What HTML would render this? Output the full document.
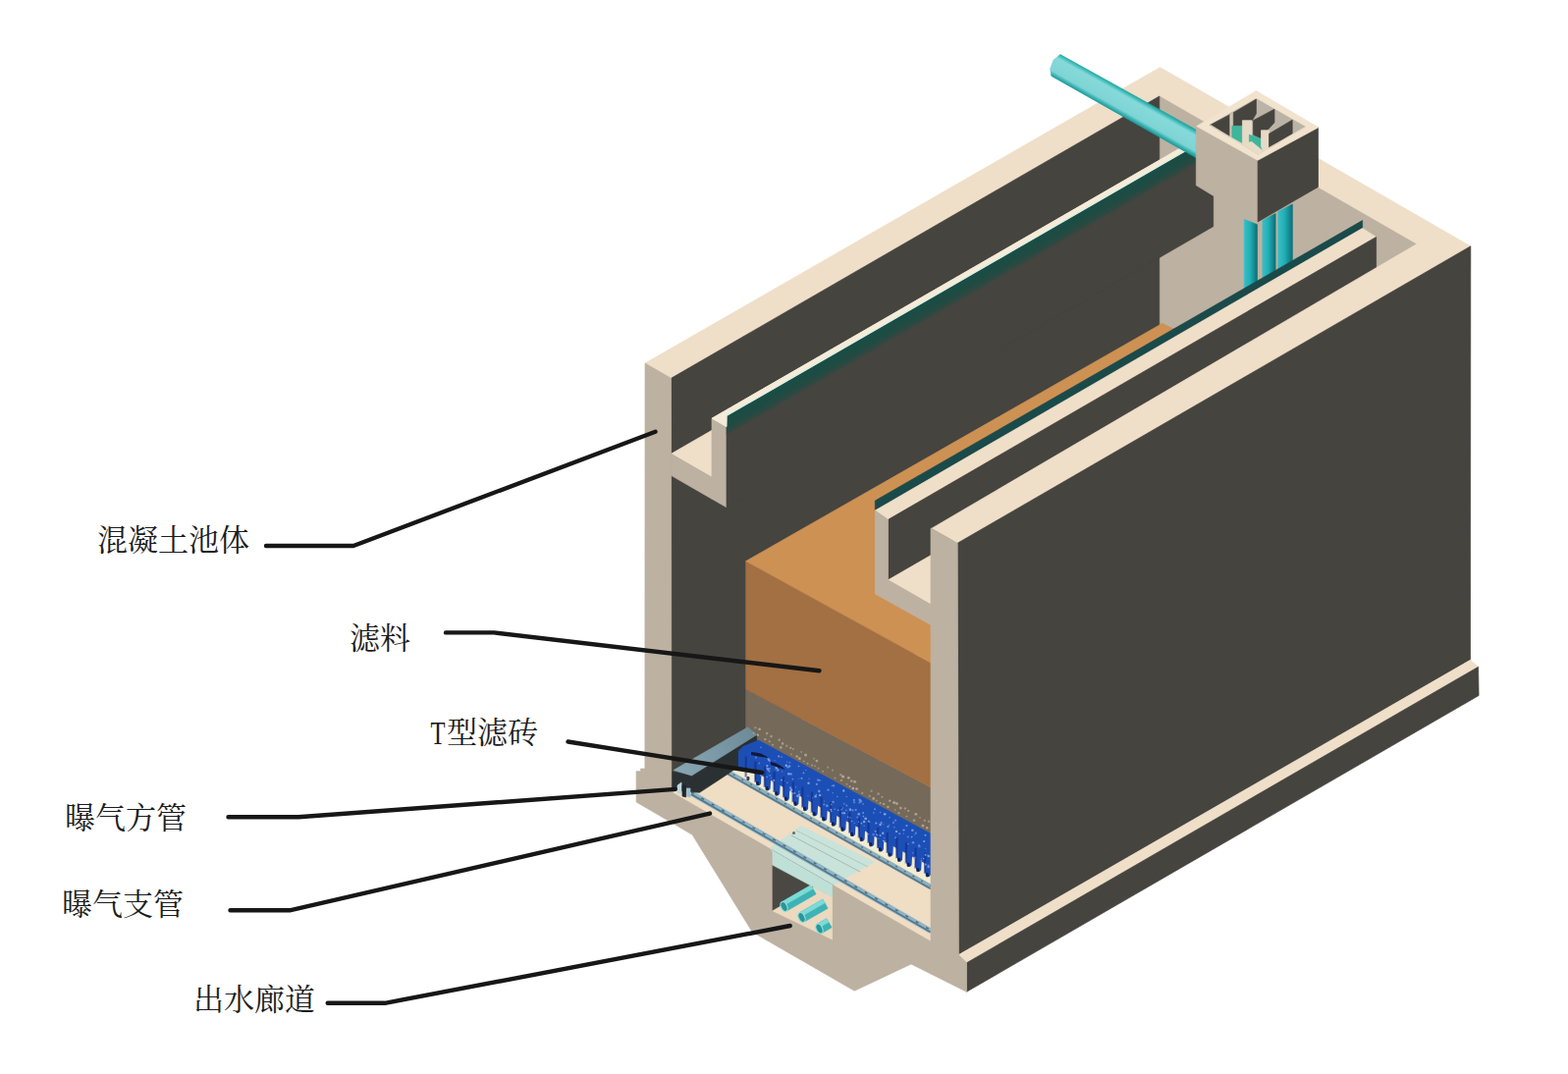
<!DOCTYPE html>
<html><head><meta charset="utf-8"><title>Filter tank diagram</title>
<style>html,body{margin:0;padding:0;background:#fff;}body{width:1597px;height:1094px;overflow:hidden;font-family:"Liberation Sans",sans-serif;}svg{display:block;}</style>
</head><body>
<svg width="1597" height="1094" viewBox="0 0 1597 1094">
<rect width="1597" height="1094" fill="#ffffff"/>
<g id="tank">
<defs>
<linearGradient id="gpipe" gradientUnits="userSpaceOnUse" x1="1150" y1="94.6" x2="1138.2" y2="115.6">
<stop offset="0" stop-color="#1FA79F"/><stop offset="0.1" stop-color="#4FC3C3"/><stop offset="0.2" stop-color="#86D9D9"/><stop offset="0.78" stop-color="#7ED4D5"/><stop offset="0.9" stop-color="#3BB3B3"/><stop offset="1" stop-color="#1E9898"/>
</linearGradient>
<linearGradient id="gv" x1="0" y1="0" x2="1" y2="0">
<stop offset="0" stop-color="#35BFC4"/><stop offset="0.45" stop-color="#22AEB6"/><stop offset="1" stop-color="#0C6F78"/>
</linearGradient>
</defs>
<polygon points="657.0,370.0 1181.5,68.6 1497.8,250.8 975.2,553.3 948.9,538.2 1442.6,248.8 1180.8,98.0 683.5,385.3" fill="#EFDFC8" stroke="#EFDFC8" stroke-width="0.7" stroke-linejoin="round" />
<polygon points="1180.8,98.0 1442.6,248.8 1442.6,671.8 1180.8,521.0" fill="#BDB1A1" stroke="#BDB1A1" stroke-width="0.7" stroke-linejoin="round" />
<polygon points="683.5,385.3 1180.8,98.0 1180.8,521.0 683.5,808.3" fill="#45443F" stroke="#45443F" stroke-width="0.7" stroke-linejoin="round" />
<polygon points="683.5,462.3 1180.0,175.8 1221.5,199.7 725.0,486.2" fill="#EFDFC8" stroke="#EFDFC8" stroke-width="0.7" stroke-linejoin="round" />
<polygon points="683.5,462.3 725.0,486.2 725.0,508.2 683.5,484.3" fill="#BDB1A1" stroke="#BDB1A1" stroke-width="0.7" stroke-linejoin="round" />
<polygon points="725.0,426.2 1221.5,139.7 1236.5,148.3 740.0,434.8" fill="#EFDFC8" stroke="#EFDFC8" stroke-width="0.7" stroke-linejoin="round" />
<polygon points="725.0,426.2 740.0,434.8 740.0,516.8 725.0,508.2" fill="#BDB1A1" stroke="#BDB1A1" stroke-width="0.7" stroke-linejoin="round" />
<polygon points="740.0,434.8 1236.5,148.3 1236.5,230.3 740.0,516.8" fill="#45443F" stroke="#45443F" stroke-width="0.7" stroke-linejoin="round" />
<defs><linearGradient id="gteal" gradientUnits="userSpaceOnUse" x1="988.5" y1="279.7" x2="997.4" y2="295.1"><stop offset="0" stop-color="#174E46"/><stop offset="0.55" stop-color="#1F4B42"/><stop offset="0.85" stop-color="#2F4841"/><stop offset="1" stop-color="#424540"/></linearGradient></defs>
<polygon points="740.3,423.0 1236.8,136.5 1236.8,157.0 740.3,443.5" fill="url(#gteal)" stroke="url(#gteal)" stroke-width="0.7" stroke-linejoin="round" />
<polygon points="725.0,426.2 1221.5,139.7 1236.8,136.5 740.3,423.0 740.0,434.8" fill="#F4EBD8" stroke="#F4EBD8" stroke-width="0.7" stroke-linejoin="round" />
<line x1="740.3" y1="423.3" x2="1236.8" y2="136.8" stroke="#DFF0E6" stroke-width="1.2"/>
<polygon points="1079.9,55.6 1218.6,132.4 1218.6,160.9 1070.9,77.4 1069.6,70.0 1073.0,61.0" fill="url(#gpipe)" stroke="url(#gpipe)" stroke-width="0.7" stroke-linejoin="round" />
<polygon points="683.8,806.8 948.0,959.0 948.0,870.0 760.0,770.0 736.6,790.0 700.0,806.0" fill="#EFDDC4" stroke="#EFDDC4" stroke-width="0.7" stroke-linejoin="round" />
<polygon points="745.0,786.7 948.0,901.6 948.0,884.8 760.0,783.5" fill="#F2ECD2" stroke="#F2ECD2" stroke-width="0.7" stroke-linejoin="round" />
<polygon points="784.0,864.5 848.3,901.6 890.6,878.0 815.7,841.4" fill="#C9E3DA" stroke="#C9E3DA" stroke-width="0.7" stroke-linejoin="round" />
<circle cx="808.5" cy="848.5" r="1.5" fill="#6B6A58"/>
<line x1="738.0" y1="784.8" x2="948.0" y2="903.6" stroke="#8FB0BC" stroke-width="5.5"/>
<line x1="738.0" y1="786.4" x2="948.0" y2="905.2" stroke="#56788A" stroke-width="1.6"/>
<line x1="704.0" y1="807.8" x2="948.0" y2="948.4" stroke="#8FB4C4" stroke-width="5.5"/>
<line x1="704.0" y1="809.0" x2="948.0" y2="949.6" stroke="#4F7488" stroke-width="1.6"/>
<line x1="704" y1="806.8" x2="948" y2="947.4" stroke="#4A6A7A" stroke-width="1.4" stroke-dasharray="3 9"/>
<line x1="738" y1="783.8" x2="948" y2="902.6" stroke="#4A6A7A" stroke-width="1.2" stroke-dasharray="2 8"/>
<line x1="806" y1="851" x2="876" y2="888" stroke="#9FBDB8" stroke-width="1"/>
<line x1="811" y1="846" x2="884" y2="883" stroke="#A9C6C0" stroke-width="0.9"/>
<polygon points="759.7,702.0 948.0,802.0 948.0,872.0 759.7,772.0" fill="#75695A" stroke="#75695A" stroke-width="0.7" stroke-linejoin="round" />
<polygon points="759.7,571.6 948.0,675.1 948.0,802.0 759.7,702.0" fill="#A27042" stroke="#A27042" stroke-width="0.7" stroke-linejoin="round" />
<polygon points="684.0,786.0 704.5,790.0 770.6,748.5 771.0,768.0 736.6,791.5 712.5,807.3 696.0,806.0 684.0,803.0" fill="#2B3133" stroke="#2B3133" stroke-width="0.7" stroke-linejoin="round" />
<defs><linearGradient id="gsq" gradientUnits="userSpaceOnUse" x1="690" y1="788" x2="765" y2="746"><stop offset="0" stop-color="#88A6B4"/><stop offset="1" stop-color="#6E8C98"/></linearGradient></defs>
<polygon points="686.0,784.5 704.5,790.0 770.6,748.5 761.6,740.8" fill="url(#gsq)" stroke="url(#gsq)" stroke-width="0.7" stroke-linejoin="round" />
<polygon points="690.0,800.0 694.0,797.0 694.0,808.0 690.0,808.0" fill="#BFD6DE" stroke="#BFD6DE" stroke-width="0.7" stroke-linejoin="round" />
<polygon points="699.0,803.0 703.0,803.0 703.0,812.0 699.0,811.0" fill="#9BBBC8" stroke="#9BBBC8" stroke-width="0.7" stroke-linejoin="round" />
<polygon points="695.0,800.0 698.5,800.0 698.5,812.0 695.0,811.0" fill="#1F2628" stroke="#1F2628" stroke-width="0.7" stroke-linejoin="round" />
<circle cx="767.6" cy="746.7" r="0.9" fill="#B5AD98" opacity="0.74"/>
<circle cx="769.4" cy="741.2" r="1.2" fill="#B5AD98" opacity="0.52"/>
<circle cx="771.8" cy="748.7" r="1.2" fill="#B5AD98" opacity="0.87"/>
<circle cx="773.6" cy="742.8" r="1.3" fill="#B5AD98" opacity="0.93"/>
<circle cx="779.3" cy="753.0" r="1.1" fill="#B5AD98" opacity="0.87"/>
<circle cx="781.1" cy="747.1" r="1.3" fill="#B5AD98" opacity="0.67"/>
<circle cx="783.7" cy="755.2" r="1.0" fill="#B5AD98" opacity="0.81"/>
<circle cx="785.5" cy="750.1" r="1.3" fill="#B5AD98" opacity="0.70"/>
<circle cx="787.1" cy="758.8" r="1.0" fill="#B5AD98" opacity="0.76"/>
<circle cx="793.7" cy="753.7" r="1.4" fill="#B5AD98" opacity="0.57"/>
<circle cx="795.3" cy="761.4" r="1.4" fill="#B5AD98" opacity="0.76"/>
<circle cx="797.1" cy="757.4" r="1.3" fill="#B5AD98" opacity="0.77"/>
<circle cx="801.2" cy="759.8" r="1.3" fill="#B5AD98" opacity="0.53"/>
<circle cx="805.3" cy="761.8" r="1.1" fill="#B5AD98" opacity="0.80"/>
<circle cx="806.0" cy="768.3" r="1.0" fill="#B5AD98" opacity="0.53"/>
<circle cx="807.8" cy="763.0" r="1.0" fill="#B5AD98" opacity="0.68"/>
<circle cx="811.6" cy="770.4" r="1.2" fill="#B5AD98" opacity="0.90"/>
<circle cx="814.4" cy="772.7" r="1.4" fill="#B5AD98" opacity="0.93"/>
<circle cx="816.2" cy="766.0" r="1.0" fill="#B5AD98" opacity="0.61"/>
<circle cx="818.7" cy="775.4" r="0.9" fill="#B5AD98" opacity="0.69"/>
<circle cx="820.5" cy="768.9" r="1.5" fill="#B5AD98" opacity="0.81"/>
<circle cx="822.6" cy="777.6" r="0.9" fill="#B5AD98" opacity="0.90"/>
<circle cx="827.1" cy="779.5" r="1.0" fill="#B5AD98" opacity="0.79"/>
<circle cx="828.9" cy="772.7" r="1.0" fill="#B5AD98" opacity="0.57"/>
<circle cx="830.1" cy="780.3" r="1.0" fill="#B5AD98" opacity="0.55"/>
<circle cx="831.9" cy="775.1" r="1.4" fill="#B5AD98" opacity="0.78"/>
<circle cx="833.6" cy="782.7" r="1.1" fill="#B5AD98" opacity="0.56"/>
<circle cx="838.1" cy="785.7" r="1.0" fill="#B5AD98" opacity="0.65"/>
<circle cx="843.2" cy="781.6" r="1.2" fill="#B5AD98" opacity="0.51"/>
<circle cx="847.9" cy="784.6" r="1.1" fill="#B5AD98" opacity="0.58"/>
<circle cx="850.4" cy="792.5" r="1.1" fill="#B5AD98" opacity="0.60"/>
<circle cx="856.3" cy="789.3" r="1.2" fill="#B5AD98" opacity="0.66"/>
<circle cx="856.8" cy="794.8" r="1.1" fill="#B5AD98" opacity="0.81"/>
<circle cx="858.6" cy="791.0" r="1.5" fill="#B5AD98" opacity="0.94"/>
<circle cx="862.5" cy="798.7" r="1.0" fill="#B5AD98" opacity="0.59"/>
<circle cx="864.3" cy="792.3" r="1.4" fill="#B5AD98" opacity="0.88"/>
<circle cx="865.5" cy="801.0" r="1.0" fill="#B5AD98" opacity="0.80"/>
<circle cx="867.3" cy="795.6" r="1.4" fill="#B5AD98" opacity="0.72"/>
<circle cx="868.8" cy="803.1" r="1.4" fill="#B5AD98" opacity="0.94"/>
<circle cx="870.6" cy="796.2" r="1.5" fill="#B5AD98" opacity="0.83"/>
<circle cx="872.6" cy="803.6" r="1.4" fill="#B5AD98" opacity="0.86"/>
<circle cx="878.2" cy="807.9" r="1.2" fill="#B5AD98" opacity="0.56"/>
<circle cx="885.7" cy="810.9" r="1.1" fill="#B5AD98" opacity="0.61"/>
<circle cx="887.5" cy="805.8" r="1.2" fill="#B5AD98" opacity="0.56"/>
<circle cx="889.7" cy="813.4" r="1.3" fill="#B5AD98" opacity="0.91"/>
<circle cx="892.8" cy="815.5" r="0.9" fill="#B5AD98" opacity="0.70"/>
<circle cx="894.6" cy="808.7" r="1.4" fill="#B5AD98" opacity="0.58"/>
<circle cx="896.6" cy="818.1" r="1.1" fill="#B5AD98" opacity="0.73"/>
<circle cx="898.4" cy="811.7" r="1.0" fill="#B5AD98" opacity="0.75"/>
<circle cx="900.1" cy="818.9" r="1.2" fill="#B5AD98" opacity="0.75"/>
<circle cx="904.4" cy="822.0" r="1.2" fill="#B5AD98" opacity="0.81"/>
<circle cx="906.2" cy="815.6" r="1.2" fill="#B5AD98" opacity="0.92"/>
<circle cx="910.6" cy="817.6" r="1.5" fill="#B5AD98" opacity="0.88"/>
<circle cx="911.6" cy="824.8" r="0.9" fill="#B5AD98" opacity="0.61"/>
<circle cx="913.4" cy="818.6" r="1.4" fill="#B5AD98" opacity="0.90"/>
<circle cx="915.5" cy="828.3" r="1.0" fill="#B5AD98" opacity="0.90"/>
<circle cx="917.3" cy="822.9" r="1.5" fill="#B5AD98" opacity="0.68"/>
<circle cx="921.9" cy="823.5" r="1.2" fill="#B5AD98" opacity="0.65"/>
<circle cx="923.4" cy="831.6" r="0.9" fill="#B5AD98" opacity="0.75"/>
<circle cx="925.2" cy="825.9" r="1.1" fill="#B5AD98" opacity="0.78"/>
<circle cx="931.0" cy="835.7" r="1.4" fill="#B5AD98" opacity="0.62"/>
<circle cx="932.8" cy="829.3" r="1.4" fill="#B5AD98" opacity="0.87"/>
<circle cx="937.0" cy="832.7" r="1.0" fill="#B5AD98" opacity="0.53"/>
<circle cx="940.0" cy="840.9" r="1.5" fill="#B5AD98" opacity="0.79"/>
<circle cx="941.8" cy="835.8" r="1.4" fill="#B5AD98" opacity="0.53"/>
<circle cx="944.2" cy="843.3" r="1.2" fill="#B5AD98" opacity="0.92"/>
<circle cx="946.0" cy="836.8" r="1.2" fill="#B5AD98" opacity="0.61"/>
<path d="M752,765 L757,760 L772.6,753.7 L948,848.9 L948,891.8 L947.8,891.3 Q944.8,896.6 941.8,887.8 L941.6,879.3 L938.6,877.6 L938.2,886.1 Q935.2,891.4 932.2,882.7 L932.0,874.2 L929.0,872.4 L928.6,880.9 Q925.6,886.2 922.6,877.5 L922.4,869.0 L919.4,867.3 L919.0,875.8 Q916.0,881.0 913.0,872.3 L912.8,863.8 L909.8,862.1 L909.4,870.6 Q906.4,875.9 903.4,867.1 L903.2,858.6 L900.2,856.9 L899.8,865.4 Q896.8,870.7 893.8,862.0 L893.6,853.5 L890.6,851.7 L890.2,860.2 Q887.2,865.5 884.2,856.8 L884.0,848.3 L881.0,846.6 L880.6,855.1 Q877.6,860.3 874.6,851.6 L874.4,843.1 L871.4,841.4 L871.0,849.9 Q868.0,855.2 865.0,846.4 L864.8,837.9 L861.8,836.2 L861.4,844.7 Q858.4,850.0 855.4,841.3 L855.2,832.8 L852.2,831.0 L851.8,839.5 Q848.8,844.8 845.8,836.1 L845.6,827.6 L842.6,825.9 L842.2,834.4 Q839.2,839.6 836.2,830.9 L836.0,822.4 L833.0,820.7 L832.6,829.2 Q829.6,834.5 826.6,825.7 L826.4,817.2 L823.4,815.5 L823.0,824.0 Q820.0,829.3 817.0,820.6 L816.8,812.1 L813.8,810.3 L813.4,818.8 Q810.4,824.1 807.4,815.4 L807.2,806.9 L804.2,805.2 L803.8,813.7 Q800.8,819.0 797.8,810.2 L797.6,801.7 L794.6,800.0 L794.2,808.5 Q791.2,813.8 788.2,805.1 L788.0,796.6 L785.0,794.8 L784.6,803.3 Q781.6,808.6 778.6,799.9 L778.4,791.4 L775.4,789.7 L775.0,798.2 Q772.0,803.4 769.0,794.7 L768.8,786.2 L765.8,784.5 L752,785 Z" fill="#1C4FB6"/>
<line x1="942.2" y1="868.8" x2="942.0" y2="889.8" stroke="#16277E" stroke-width="2.2" opacity="0.55"/>
<ellipse cx="944.3" cy="891.3" rx="1.6" ry="2.2" fill="#0B1238" opacity="0.8"/>
<line x1="932.6" y1="863.6" x2="932.4" y2="884.6" stroke="#16277E" stroke-width="2.2" opacity="0.55"/>
<ellipse cx="934.7" cy="886.1" rx="1.6" ry="2.2" fill="#0B1238" opacity="0.8"/>
<line x1="923.0" y1="858.4" x2="922.8" y2="879.4" stroke="#16277E" stroke-width="2.2" opacity="0.55"/>
<ellipse cx="925.1" cy="880.9" rx="1.6" ry="2.2" fill="#0B1238" opacity="0.8"/>
<line x1="913.4" y1="853.3" x2="913.2" y2="874.3" stroke="#16277E" stroke-width="2.2" opacity="0.55"/>
<ellipse cx="915.5" cy="875.7" rx="1.6" ry="2.2" fill="#0B1238" opacity="0.8"/>
<line x1="903.8" y1="848.1" x2="903.6" y2="869.1" stroke="#16277E" stroke-width="2.2" opacity="0.55"/>
<ellipse cx="905.9" cy="870.6" rx="1.6" ry="2.2" fill="#0B1238" opacity="0.8"/>
<line x1="894.2" y1="842.9" x2="894.0" y2="863.9" stroke="#16277E" stroke-width="2.2" opacity="0.55"/>
<ellipse cx="896.3" cy="865.4" rx="1.6" ry="2.2" fill="#0B1238" opacity="0.8"/>
<line x1="884.6" y1="837.7" x2="884.4" y2="858.7" stroke="#16277E" stroke-width="2.2" opacity="0.55"/>
<ellipse cx="886.7" cy="860.2" rx="1.6" ry="2.2" fill="#0B1238" opacity="0.8"/>
<line x1="875.0" y1="832.6" x2="874.8" y2="853.6" stroke="#16277E" stroke-width="2.2" opacity="0.55"/>
<ellipse cx="877.1" cy="855.0" rx="1.6" ry="2.2" fill="#0B1238" opacity="0.8"/>
<line x1="865.4" y1="827.4" x2="865.2" y2="848.4" stroke="#16277E" stroke-width="2.2" opacity="0.55"/>
<ellipse cx="867.5" cy="849.9" rx="1.6" ry="2.2" fill="#0B1238" opacity="0.8"/>
<line x1="855.8" y1="822.2" x2="855.6" y2="843.2" stroke="#16277E" stroke-width="2.2" opacity="0.55"/>
<ellipse cx="857.9" cy="844.7" rx="1.6" ry="2.2" fill="#0B1238" opacity="0.8"/>
<line x1="846.2" y1="817.0" x2="846.0" y2="838.0" stroke="#16277E" stroke-width="2.2" opacity="0.55"/>
<ellipse cx="848.3" cy="839.5" rx="1.6" ry="2.2" fill="#0B1238" opacity="0.8"/>
<line x1="836.6" y1="811.9" x2="836.4" y2="832.9" stroke="#16277E" stroke-width="2.2" opacity="0.55"/>
<ellipse cx="838.7" cy="834.3" rx="1.6" ry="2.2" fill="#0B1238" opacity="0.8"/>
<line x1="827.0" y1="806.7" x2="826.8" y2="827.7" stroke="#16277E" stroke-width="2.2" opacity="0.55"/>
<ellipse cx="829.1" cy="829.2" rx="1.6" ry="2.2" fill="#0B1238" opacity="0.8"/>
<line x1="817.4" y1="801.5" x2="817.2" y2="822.5" stroke="#16277E" stroke-width="2.2" opacity="0.55"/>
<ellipse cx="819.5" cy="824.0" rx="1.6" ry="2.2" fill="#0B1238" opacity="0.8"/>
<line x1="807.8" y1="796.3" x2="807.6" y2="817.3" stroke="#16277E" stroke-width="2.2" opacity="0.55"/>
<ellipse cx="809.9" cy="818.8" rx="1.6" ry="2.2" fill="#0B1238" opacity="0.8"/>
<line x1="798.2" y1="791.2" x2="798.0" y2="812.2" stroke="#16277E" stroke-width="2.2" opacity="0.55"/>
<ellipse cx="800.3" cy="813.7" rx="1.6" ry="2.2" fill="#0B1238" opacity="0.8"/>
<line x1="788.6" y1="786.0" x2="788.4" y2="807.0" stroke="#16277E" stroke-width="2.2" opacity="0.55"/>
<ellipse cx="790.7" cy="808.5" rx="1.6" ry="2.2" fill="#0B1238" opacity="0.8"/>
<line x1="779.0" y1="780.8" x2="778.8" y2="801.8" stroke="#16277E" stroke-width="2.2" opacity="0.55"/>
<ellipse cx="781.1" cy="803.3" rx="1.6" ry="2.2" fill="#0B1238" opacity="0.8"/>
<line x1="769.4" y1="775.7" x2="769.2" y2="796.7" stroke="#16277E" stroke-width="2.2" opacity="0.55"/>
<ellipse cx="771.5" cy="798.1" rx="1.6" ry="2.2" fill="#0B1238" opacity="0.8"/>
<line x1="759.8" y1="770.5" x2="759.6" y2="791.5" stroke="#16277E" stroke-width="2.2" opacity="0.55"/>
<ellipse cx="761.9" cy="793.0" rx="1.6" ry="2.2" fill="#0B1238" opacity="0.8"/>
<circle cx="848.5" cy="816.9" r="1.2" fill="#8DAEEA" opacity="0.63"/>
<circle cx="858.4" cy="823.1" r="0.7" fill="#8DAEEA" opacity="0.66"/>
<circle cx="880.1" cy="841.3" r="0.7" fill="#8DAEEA" opacity="0.55"/>
<circle cx="784.1" cy="790.0" r="1.1" fill="#8DAEEA" opacity="0.42"/>
<circle cx="942.8" cy="880.6" r="1.1" fill="#8DAEEA" opacity="0.71"/>
<circle cx="796.0" cy="771.1" r="1.0" fill="#8DAEEA" opacity="0.43"/>
<circle cx="801.9" cy="781.5" r="0.6" fill="#8DAEEA" opacity="0.63"/>
<circle cx="846.4" cy="824.7" r="1.0" fill="#8DAEEA" opacity="0.72"/>
<circle cx="857.0" cy="824.7" r="0.9" fill="#8DAEEA" opacity="0.54"/>
<circle cx="945.6" cy="883.1" r="1.2" fill="#8DAEEA" opacity="0.75"/>
<circle cx="824.1" cy="793.2" r="0.8" fill="#8DAEEA" opacity="0.44"/>
<circle cx="904.4" cy="842.1" r="1.2" fill="#8DAEEA" opacity="0.59"/>
<circle cx="938.5" cy="874.6" r="0.6" fill="#8DAEEA" opacity="0.50"/>
<circle cx="930.0" cy="858.2" r="1.3" fill="#8DAEEA" opacity="0.60"/>
<circle cx="781.0" cy="782.6" r="1.1" fill="#8DAEEA" opacity="0.53"/>
<circle cx="783.5" cy="774.5" r="1.3" fill="#8DAEEA" opacity="0.78"/>
<circle cx="789.0" cy="774.7" r="0.7" fill="#8DAEEA" opacity="0.43"/>
<circle cx="909.9" cy="838.0" r="1.0" fill="#8DAEEA" opacity="0.62"/>
<circle cx="801.9" cy="797.2" r="0.7" fill="#8DAEEA" opacity="0.72"/>
<circle cx="788.7" cy="780.1" r="0.7" fill="#8DAEEA" opacity="0.53"/>
<circle cx="940.8" cy="874.5" r="0.8" fill="#8DAEEA" opacity="0.84"/>
<circle cx="805.5" cy="788.4" r="1.2" fill="#8DAEEA" opacity="0.72"/>
<circle cx="785.9" cy="796.7" r="0.7" fill="#8DAEEA" opacity="0.53"/>
<circle cx="905.5" cy="840.5" r="0.8" fill="#8DAEEA" opacity="0.44"/>
<circle cx="784.0" cy="782.7" r="0.8" fill="#8DAEEA" opacity="0.70"/>
<circle cx="834.2" cy="805.7" r="1.3" fill="#8DAEEA" opacity="0.64"/>
<circle cx="870.3" cy="838.4" r="0.7" fill="#8DAEEA" opacity="0.48"/>
<circle cx="929.7" cy="868.9" r="0.8" fill="#8DAEEA" opacity="0.49"/>
<circle cx="899.6" cy="856.5" r="0.7" fill="#8DAEEA" opacity="0.88"/>
<circle cx="925.0" cy="859.6" r="0.9" fill="#8DAEEA" opacity="0.45"/>
<circle cx="774.9" cy="789.9" r="0.8" fill="#8DAEEA" opacity="0.75"/>
<circle cx="813.7" cy="806.5" r="1.0" fill="#8DAEEA" opacity="0.55"/>
<circle cx="799.2" cy="795.3" r="0.6" fill="#8DAEEA" opacity="0.51"/>
<circle cx="867.6" cy="836.4" r="1.0" fill="#8DAEEA" opacity="0.54"/>
<circle cx="931.3" cy="850.5" r="0.6" fill="#8DAEEA" opacity="0.53"/>
<circle cx="847.3" cy="800.4" r="0.7" fill="#8DAEEA" opacity="0.58"/>
<circle cx="869.8" cy="814.9" r="0.9" fill="#8DAEEA" opacity="0.85"/>
<circle cx="942.5" cy="870.8" r="1.1" fill="#8DAEEA" opacity="0.69"/>
<circle cx="793.0" cy="770.1" r="0.6" fill="#8DAEEA" opacity="0.86"/>
<circle cx="892.8" cy="853.5" r="0.6" fill="#8DAEEA" opacity="0.72"/>
<circle cx="853.8" cy="825.2" r="0.8" fill="#8DAEEA" opacity="0.90"/>
<circle cx="781.4" cy="780.1" r="1.1" fill="#8DAEEA" opacity="0.85"/>
<circle cx="899.2" cy="848.8" r="1.2" fill="#8DAEEA" opacity="0.86"/>
<circle cx="830.6" cy="811.2" r="1.2" fill="#8DAEEA" opacity="0.84"/>
<circle cx="842.3" cy="820.8" r="1.2" fill="#8DAEEA" opacity="0.69"/>
<circle cx="879.2" cy="827.9" r="1.0" fill="#8DAEEA" opacity="0.70"/>
<circle cx="782.3" cy="783.6" r="1.3" fill="#8DAEEA" opacity="0.84"/>
<circle cx="897.6" cy="838.0" r="1.1" fill="#8DAEEA" opacity="0.69"/>
<circle cx="846.4" cy="824.6" r="0.7" fill="#8DAEEA" opacity="0.78"/>
<circle cx="773.3" cy="777.5" r="0.9" fill="#8DAEEA" opacity="0.52"/>
<circle cx="892.3" cy="838.6" r="1.0" fill="#8DAEEA" opacity="0.86"/>
<circle cx="813.5" cy="780.5" r="0.8" fill="#8DAEEA" opacity="0.74"/>
<circle cx="804.1" cy="780.4" r="1.2" fill="#8DAEEA" opacity="0.73"/>
<circle cx="846.7" cy="826.4" r="0.8" fill="#8DAEEA" opacity="0.73"/>
<circle cx="803.3" cy="788.3" r="1.2" fill="#8DAEEA" opacity="0.86"/>
<circle cx="924.7" cy="852.6" r="1.0" fill="#8DAEEA" opacity="0.56"/>
<circle cx="792.2" cy="784.4" r="1.2" fill="#8DAEEA" opacity="0.82"/>
<circle cx="894.6" cy="854.1" r="0.8" fill="#8DAEEA" opacity="0.48"/>
<circle cx="848.2" cy="807.7" r="0.7" fill="#8DAEEA" opacity="0.61"/>
<circle cx="879.4" cy="831.5" r="0.8" fill="#8DAEEA" opacity="0.82"/>
<circle cx="942.8" cy="864.5" r="0.7" fill="#8DAEEA" opacity="0.42"/>
<circle cx="923.4" cy="841.1" r="1.1" fill="#8DAEEA" opacity="0.69"/>
<circle cx="823.0" cy="810.4" r="0.6" fill="#8DAEEA" opacity="0.47"/>
<circle cx="849.0" cy="800.2" r="1.2" fill="#8DAEEA" opacity="0.52"/>
<circle cx="793.1" cy="770.6" r="1.0" fill="#8DAEEA" opacity="0.62"/>
<circle cx="880.1" cy="837.0" r="1.2" fill="#8DAEEA" opacity="0.88"/>
<circle cx="889.8" cy="827.9" r="0.9" fill="#8DAEEA" opacity="0.49"/>
<circle cx="769.9" cy="771.6" r="1.1" fill="#8DAEEA" opacity="0.49"/>
<circle cx="816.5" cy="792.8" r="1.1" fill="#8DAEEA" opacity="0.66"/>
<circle cx="877.4" cy="838.7" r="0.9" fill="#8DAEEA" opacity="0.80"/>
<circle cx="929.3" cy="845.7" r="1.3" fill="#8DAEEA" opacity="0.76"/>
<circle cx="791.1" cy="782.5" r="1.0" fill="#8DAEEA" opacity="0.85"/>
<circle cx="835.1" cy="809.9" r="1.2" fill="#8DAEEA" opacity="0.80"/>
<circle cx="936.1" cy="861.2" r="1.1" fill="#8DAEEA" opacity="0.50"/>
<circle cx="896.5" cy="851.0" r="1.0" fill="#8DAEEA" opacity="0.76"/>
<circle cx="806.0" cy="804.7" r="1.3" fill="#8DAEEA" opacity="0.89"/>
<circle cx="863.6" cy="832.3" r="0.8" fill="#8DAEEA" opacity="0.85"/>
<circle cx="920.3" cy="849.1" r="0.7" fill="#8DAEEA" opacity="0.62"/>
<circle cx="866.0" cy="832.9" r="0.9" fill="#8DAEEA" opacity="0.41"/>
<circle cx="912.0" cy="835.6" r="1.2" fill="#8DAEEA" opacity="0.49"/>
<circle cx="827.6" cy="812.8" r="0.7" fill="#8DAEEA" opacity="0.47"/>
<circle cx="859.9" cy="828.2" r="1.2" fill="#8DAEEA" opacity="0.74"/>
<circle cx="936.3" cy="862.3" r="1.3" fill="#8DAEEA" opacity="0.44"/>
<circle cx="807.4" cy="793.6" r="0.8" fill="#8DAEEA" opacity="0.76"/>
<circle cx="881.7" cy="833.7" r="1.2" fill="#8DAEEA" opacity="0.68"/>
<circle cx="823.5" cy="797.7" r="1.2" fill="#8DAEEA" opacity="0.85"/>
<circle cx="805.1" cy="802.6" r="1.3" fill="#8DAEEA" opacity="0.66"/>
<circle cx="870.0" cy="817.2" r="1.0" fill="#8DAEEA" opacity="0.65"/>
<circle cx="875.7" cy="814.8" r="1.3" fill="#8DAEEA" opacity="0.66"/>
<circle cx="839.3" cy="819.6" r="1.0" fill="#8DAEEA" opacity="0.65"/>
<circle cx="891.0" cy="824.3" r="1.0" fill="#8DAEEA" opacity="0.61"/>
<circle cx="938.3" cy="876.9" r="0.8" fill="#8DAEEA" opacity="0.64"/>
<circle cx="790.6" cy="781.5" r="1.2" fill="#8DAEEA" opacity="0.85"/>
<circle cx="852.8" cy="811.5" r="0.7" fill="#8DAEEA" opacity="0.71"/>
<circle cx="932.7" cy="848.9" r="1.1" fill="#8DAEEA" opacity="0.41"/>
<circle cx="802.6" cy="781.4" r="1.1" fill="#8DAEEA" opacity="0.56"/>
<circle cx="831.3" cy="809.4" r="0.7" fill="#8DAEEA" opacity="0.77"/>
<circle cx="789.9" cy="783.6" r="0.8" fill="#8DAEEA" opacity="0.50"/>
<circle cx="862.4" cy="820.5" r="0.9" fill="#8DAEEA" opacity="0.61"/>
<circle cx="862.2" cy="811.6" r="0.7" fill="#8DAEEA" opacity="0.72"/>
<circle cx="881.6" cy="833.9" r="1.2" fill="#8DAEEA" opacity="0.71"/>
<circle cx="920.5" cy="845.5" r="1.1" fill="#8DAEEA" opacity="0.81"/>
<circle cx="928.7" cy="852.6" r="0.8" fill="#8DAEEA" opacity="0.86"/>
<circle cx="806.8" cy="808.3" r="1.2" fill="#8DAEEA" opacity="0.47"/>
<circle cx="810.6" cy="801.7" r="0.8" fill="#8DAEEA" opacity="0.45"/>
<circle cx="916.1" cy="849.1" r="1.2" fill="#8DAEEA" opacity="0.46"/>
<circle cx="839.7" cy="816.1" r="0.6" fill="#8DAEEA" opacity="0.50"/>
<circle cx="889.5" cy="850.1" r="1.3" fill="#8DAEEA" opacity="0.46"/>
<circle cx="858.0" cy="828.3" r="1.0" fill="#8DAEEA" opacity="0.74"/>
<circle cx="801.6" cy="776.0" r="0.7" fill="#8DAEEA" opacity="0.42"/>
<circle cx="866.2" cy="825.0" r="1.0" fill="#8DAEEA" opacity="0.47"/>
<circle cx="800.8" cy="779.8" r="1.2" fill="#8DAEEA" opacity="0.90"/>
<circle cx="933.0" cy="848.0" r="0.6" fill="#8DAEEA" opacity="0.88"/>
<circle cx="850.2" cy="824.3" r="0.8" fill="#8DAEEA" opacity="0.63"/>
<circle cx="859.7" cy="818.8" r="1.0" fill="#8DAEEA" opacity="0.41"/>
<circle cx="892.8" cy="849.8" r="0.7" fill="#8DAEEA" opacity="0.63"/>
<circle cx="899.6" cy="839.6" r="0.7" fill="#8DAEEA" opacity="0.48"/>
<circle cx="859.2" cy="805.5" r="1.2" fill="#8DAEEA" opacity="0.80"/>
<circle cx="893.4" cy="850.7" r="1.0" fill="#8DAEEA" opacity="0.60"/>
<circle cx="874.7" cy="829.3" r="1.3" fill="#8DAEEA" opacity="0.80"/>
<circle cx="814.0" cy="809.4" r="1.1" fill="#8DAEEA" opacity="0.79"/>
<circle cx="913.0" cy="846.9" r="1.2" fill="#8DAEEA" opacity="0.84"/>
<circle cx="891.7" cy="846.8" r="1.1" fill="#8DAEEA" opacity="0.60"/>
<circle cx="896.6" cy="827.5" r="0.8" fill="#8DAEEA" opacity="0.63"/>
<circle cx="769.9" cy="767.8" r="1.0" fill="#8DAEEA" opacity="0.71"/>
<circle cx="809.3" cy="807.9" r="1.1" fill="#8DAEEA" opacity="0.57"/>
<circle cx="885.4" cy="837.2" r="1.0" fill="#8DAEEA" opacity="0.59"/>
<circle cx="946.0" cy="872.2" r="1.1" fill="#8DAEEA" opacity="0.78"/>
<circle cx="942.5" cy="850.8" r="1.0" fill="#8DAEEA" opacity="0.77"/>
<circle cx="813.7" cy="793.0" r="0.6" fill="#8DAEEA" opacity="0.50"/>
<circle cx="834.9" cy="794.9" r="0.8" fill="#8DAEEA" opacity="0.85"/>
<circle cx="865.9" cy="824.6" r="1.3" fill="#8DAEEA" opacity="0.68"/>
<circle cx="945.1" cy="871.6" r="1.2" fill="#8DAEEA" opacity="0.44"/>
<circle cx="874.4" cy="837.2" r="0.6" fill="#8DAEEA" opacity="0.87"/>
<circle cx="796.5" cy="785.9" r="0.7" fill="#8DAEEA" opacity="0.65"/>
<circle cx="876.8" cy="816.3" r="1.3" fill="#8DAEEA" opacity="0.61"/>
<circle cx="861.8" cy="825.3" r="0.9" fill="#8DAEEA" opacity="0.54"/>
<circle cx="884.6" cy="836.4" r="0.8" fill="#8DAEEA" opacity="0.76"/>
<circle cx="820.7" cy="784.5" r="0.8" fill="#8DAEEA" opacity="0.42"/>
<circle cx="795.9" cy="794.6" r="0.9" fill="#8DAEEA" opacity="0.85"/>
<circle cx="901.2" cy="829.3" r="1.3" fill="#8DAEEA" opacity="0.87"/>
<circle cx="781.1" cy="791.4" r="0.9" fill="#8DAEEA" opacity="0.64"/>
<circle cx="941.2" cy="857.1" r="1.0" fill="#8DAEEA" opacity="0.87"/>
<circle cx="896.6" cy="840.0" r="1.3" fill="#8DAEEA" opacity="0.81"/>
<circle cx="875.4" cy="817.4" r="1.0" fill="#8DAEEA" opacity="0.63"/>
<circle cx="804.3" cy="776.8" r="1.0" fill="#8DAEEA" opacity="0.46"/>
<circle cx="846.8" cy="819.4" r="0.9" fill="#8DAEEA" opacity="0.53"/>
<circle cx="871.6" cy="825.0" r="1.1" fill="#8DAEEA" opacity="0.67"/>
<circle cx="945.6" cy="881.7" r="1.1" fill="#8DAEEA" opacity="0.52"/>
<circle cx="788.3" cy="794.9" r="1.1" fill="#8DAEEA" opacity="0.71"/>
<circle cx="831.9" cy="798.8" r="1.1" fill="#8DAEEA" opacity="0.68"/>
<circle cx="873.3" cy="832.6" r="1.1" fill="#8DAEEA" opacity="0.49"/>
<circle cx="812.3" cy="810.7" r="1.2" fill="#8DAEEA" opacity="0.84"/>
<circle cx="775.0" cy="761.2" r="0.8" fill="#8DAEEA" opacity="0.61"/>
<circle cx="879.0" cy="818.9" r="1.0" fill="#8DAEEA" opacity="0.44"/>
<circle cx="783.4" cy="785.4" r="1.0" fill="#8DAEEA" opacity="0.72"/>
<circle cx="834.4" cy="806.7" r="0.7" fill="#8DAEEA" opacity="0.57"/>
<circle cx="900.6" cy="853.8" r="0.7" fill="#8DAEEA" opacity="0.46"/>
<circle cx="912.0" cy="853.3" r="1.1" fill="#8DAEEA" opacity="0.51"/>
<circle cx="843.5" cy="804.6" r="1.2" fill="#8DAEEA" opacity="0.58"/>
<circle cx="884.4" cy="849.8" r="0.8" fill="#8DAEEA" opacity="0.67"/>
<circle cx="900.8" cy="856.6" r="0.9" fill="#8DAEEA" opacity="0.58"/>
<circle cx="785.3" cy="792.7" r="0.7" fill="#8DAEEA" opacity="0.44"/>
<circle cx="868.4" cy="825.3" r="1.1" fill="#8DAEEA" opacity="0.55"/>
<circle cx="906.0" cy="832.8" r="0.7" fill="#8DAEEA" opacity="0.73"/>
<circle cx="782.5" cy="773.0" r="1.1" fill="#8DAEEA" opacity="0.75"/>
<circle cx="818.4" cy="787.3" r="0.9" fill="#8DAEEA" opacity="0.76"/>
<circle cx="833.2" cy="794.6" r="1.1" fill="#8DAEEA" opacity="0.68"/>
<circle cx="931.5" cy="873.7" r="1.2" fill="#8DAEEA" opacity="0.62"/>
<circle cx="910.9" cy="842.6" r="0.8" fill="#8DAEEA" opacity="0.60"/>
<path d="M765,766 q10,0 18,6 q-9,-1 -18,-3z" fill="#10183A"/>
<path d="M785,776 q9,2 15,8 q-8,-2 -15,-5z" fill="#10183A"/>
<polygon points="759.7,571.6 1256.2,288.1 1444.5,388.6 948.0,675.1" fill="#CD9153" stroke="#CD9153" stroke-width="0.7" stroke-linejoin="round" />
<polygon points="1182.1,263.5 1236.3,231.4 1236.3,199.7 1218.3,188.8 1218.3,128.3 1281.1,163.0 1281.1,300.0 1195.2,334.2 1182.1,328.0" fill="#BDB1A1" stroke="#BDB1A1" stroke-width="0.7" stroke-linejoin="round" />
<polygon points="1267.3,223.5 1280.4,228.7 1280.4,330.0 1267.3,330.0" fill="url(#gv)" stroke="url(#gv)" stroke-width="0.7" stroke-linejoin="round" />
<polygon points="1285.9,224.5 1299.1,217.6 1299.1,330.0 1285.9,330.0" fill="url(#gv)" stroke="url(#gv)" stroke-width="0.7" stroke-linejoin="round" />
<polygon points="1301.8,215.5 1316.3,208.0 1316.3,330.0 1301.8,330.0" fill="url(#gv)" stroke="url(#gv)" stroke-width="0.7" stroke-linejoin="round" />
<polygon points="1281.1,163.0 1342.5,129.7 1342.5,190.4 1319.0,204.0 1281.1,226.0" fill="#45443F" stroke="#45443F" stroke-width="0.7" stroke-linejoin="round" />
<polygon points="1218.6,128.6 1279.4,92.6 1342.8,129.8 1281.0,163.3" fill="#F1E3CD" stroke="#F1E3CD" stroke-width="0.7" stroke-linejoin="round" />
<polygon points="1232.2,127.3 1279.4,100.6 1329.7,129.3 1281.5,156.9" fill="#BBB3A6" stroke="#BBB3A6" stroke-width="0.7" stroke-linejoin="round" />
<polygon points="1232.7,127.3 1252.8,116.7 1252.8,139.5" fill="#45443F" stroke="#45443F" stroke-width="0.7" stroke-linejoin="round" />
<polygon points="1252.8,116.7 1256.3,114.7 1256.3,141.5 1252.8,139.5" fill="#CFC5B5" stroke="#CFC5B5" stroke-width="0.7" stroke-linejoin="round" />
<polygon points="1256.3,114.7 1279.4,101.1 1279.4,115.7 1275.4,122.7 1265.4,122.7 1265.4,128.3 1256.3,128.3" fill="#45443F" stroke="#45443F" stroke-width="0.7" stroke-linejoin="round" />
<polygon points="1254.8,128.3 1265.4,128.3 1265.4,146.4 1254.8,140.3" fill="#3FB59A" stroke="#3FB59A" stroke-width="0.7" stroke-linejoin="round" />
<polygon points="1265.4,122.7 1274.9,122.7 1274.9,144.4 1265.4,146.4" fill="#E6DAC6" stroke="#E6DAC6" stroke-width="0.7" stroke-linejoin="round" />
<polygon points="1276.4,122.7 1298.0,111.2 1298.0,124.8 1291.0,132.5 1284.5,132.8 1284.5,141.3 1276.4,137.3" fill="#45443F" stroke="#45443F" stroke-width="0.7" stroke-linejoin="round" />
<polygon points="1272.4,137.3 1284.5,141.3 1286.5,153.9 1272.4,146.4" fill="#3FB59A" stroke="#3FB59A" stroke-width="0.7" stroke-linejoin="round" />
<polygon points="1284.5,132.8 1292.5,132.8 1292.5,150.4 1286.5,153.9 1284.5,149.4" fill="#E6DAC6" stroke="#E6DAC6" stroke-width="0.7" stroke-linejoin="round" />
<polygon points="1292.5,136.3 1316.2,122.2 1316.2,136.3 1301.6,145.4 1292.5,150.4" fill="#45443F" stroke="#45443F" stroke-width="0.7" stroke-linejoin="round" />
<polygon points="1256.3,141.5 1265.4,146.4 1274.9,144.4 1286.5,153.9 1292.5,150.4 1301.6,145.4 1329.7,129.3 1281.5,156.9 1232.7,127.3 1252.8,139.5" fill="#E9DCC7" stroke="#E9DCC7" stroke-width="0.7" stroke-linejoin="round" />
<polygon points="891.3,510.0 1387.6,224.6 1387.6,232.5 891.3,520.0" fill="#1B4A4B" stroke="#1B4A4B" stroke-width="0.7" stroke-linejoin="round" />
<polygon points="891.3,520.0 1387.6,232.5 1401.6,241.4 904.5,529.3" fill="#EFDFC8" stroke="#EFDFC8" stroke-width="0.7" stroke-linejoin="round" />
<polygon points="904.5,529.3 1401.6,241.4 1401.6,303.0 904.5,590.8" fill="#45443F" stroke="#45443F" stroke-width="0.7" stroke-linejoin="round" />
<polygon points="904.5,590.8 1401.0,304.3 1444.5,329.2 948.0,615.7" fill="#EFDFC8" stroke="#EFDFC8" stroke-width="0.7" stroke-linejoin="round" />
<polygon points="891.3,520.0 904.5,529.3 904.5,590.8 948.0,615.7 948.0,636.5 891.3,605.0" fill="#BDB1A1" stroke="#BDB1A1" stroke-width="0.7" stroke-linejoin="round" />
<polygon points="948.9,538.2 1442.6,248.8 1497.8,250.8 975.2,553.3" fill="#EFDFC8" stroke="#EFDFC8" stroke-width="0.7" stroke-linejoin="round" />
<polygon points="975.2,553.3 1497.8,250.8 1497.5,672.3 976.4,972.6" fill="#45443F" stroke="#45443F" stroke-width="0.7" stroke-linejoin="round" />
<polygon points="976.4,972.6 1497.5,672.3 1505.6,679.3 984.5,980.8" fill="#EFDFC8" stroke="#EFDFC8" stroke-width="0.7" stroke-linejoin="round" />
<polygon points="984.5,980.8 1505.6,679.3 1506.1,708.5 984.5,1010.3" fill="#45443F" stroke="#45443F" stroke-width="0.7" stroke-linejoin="round" />
<polygon points="786.2,865.8 848.3,901.6 848.3,960.0 786.2,930.0" fill="#4A4843" stroke="#4A4843" stroke-width="0.7" stroke-linejoin="round" />
<polygon points="786.2,928.2 829.0,903.5 848.3,913.6 848.3,960.0 786.2,960.0" fill="#EBD9C0" stroke="#EBD9C0" stroke-width="0.7" stroke-linejoin="round" />
<defs><linearGradient id="gp2" gradientUnits="userSpaceOnUse" x1="0" y1="0" x2="5" y2="9" spreadMethod="reflect"><stop offset="0" stop-color="#7FDCD8"/><stop offset="1" stop-color="#2C9CA0"/></linearGradient></defs>
<g>
<polygon points="795.9,919.0 825.9,901.7 831.1,910.7 801.1,928.0" fill="#3DB3B5" stroke="#3DB3B5" stroke-width="0.7" stroke-linejoin="round" />
<polygon points="795.9,919.0 825.9,901.7 828.0,905.3 798.0,922.6" fill="#7EDAD6" stroke="#7EDAD6" stroke-width="0.7" stroke-linejoin="round" />
<ellipse cx="798.5" cy="923.5" rx="3.2" ry="5.2" fill="#2A9598" stroke="#8FE0DC" stroke-width="1.2" transform="rotate(-25 798.5 923.5)"/>
</g>
<g>
<polygon points="813.9,930.0 837.9,916.1 843.1,925.2 819.1,939.0" fill="#3DB3B5" stroke="#3DB3B5" stroke-width="0.7" stroke-linejoin="round" />
<polygon points="813.9,930.0 837.9,916.1 840.0,919.8 816.0,933.6" fill="#7EDAD6" stroke="#7EDAD6" stroke-width="0.7" stroke-linejoin="round" />
<ellipse cx="816.5" cy="934.5" rx="3.2" ry="5.2" fill="#2A9598" stroke="#8FE0DC" stroke-width="1.2" transform="rotate(-25 816.5 934.5)"/>
</g>
<g>
<polygon points="831.9,941.5 841.9,935.7 847.1,944.7 837.1,950.5" fill="#3DB3B5" stroke="#3DB3B5" stroke-width="0.7" stroke-linejoin="round" />
<polygon points="831.9,941.5 841.9,935.7 844.0,939.3 834.0,945.1" fill="#7EDAD6" stroke="#7EDAD6" stroke-width="0.7" stroke-linejoin="round" />
<ellipse cx="834.5" cy="946.0" rx="3.2" ry="5.2" fill="#2A9598" stroke="#8FE0DC" stroke-width="1.2" transform="rotate(-25 834.5 946.0)"/>
</g>
<polygon points="784.0,864.5 848.3,901.6 848.3,914.1 786.2,880.8 784.0,867.5" fill="#BFE0D6" stroke="#BFE0D6" stroke-width="0.7" stroke-linejoin="round" />
<line x1="784" y1="865.5" x2="784" y2="878.5" stroke="#7A7A5A" stroke-width="1.5"/>
<polygon points="657.0,370.0 683.5,385.3 683.8,806.8 784.0,864.5 786.2,867.8 786.2,928.2 848.3,958.0 848.3,901.6 948.0,959.0 948.0,538.0 975.2,553.3 976.4,972.6 984.5,980.8 984.5,1010.3 928.0,982.0 870.3,1009.3 766.1,949.2 705.1,850.2 648.1,817.0 648.1,785.7 652.5,785.7 652.5,783.0 656.9,783.0" fill="#BDB1A1" stroke="#BDB1A1" stroke-width="0.7" stroke-linejoin="round" />
</g>
<g id="leaders">
<polyline points="271.0,556.0 360.0,556.0 667.5,439.7" fill="none" stroke="#171717" stroke-width="4.4" stroke-linejoin="round" stroke-linecap="round"/>
<polyline points="454.0,644.4 503.0,644.4 834.4,683.3" fill="none" stroke="#171717" stroke-width="4.4" stroke-linejoin="round" stroke-linecap="round"/>
<polyline points="578.5,755.5 776.0,787.0" fill="none" stroke="#171717" stroke-width="4.4" stroke-linejoin="round" stroke-linecap="round"/>
<polyline points="232.5,832.3 304.0,832.3 687.7,803.9" fill="none" stroke="#171717" stroke-width="4.4" stroke-linejoin="round" stroke-linecap="round"/>
<polyline points="234.5,927.3 295.0,927.3 723.0,828.6" fill="none" stroke="#171717" stroke-width="4.4" stroke-linejoin="round" stroke-linecap="round"/>
<polyline points="333.7,1021.8 392.0,1021.8 804.7,943.0" fill="none" stroke="#171717" stroke-width="4.4" stroke-linejoin="round" stroke-linecap="round"/>
</g>
<g id="labels" font-family='"Liberation Serif", "Noto Serif CJK SC", serif' font-size="31" fill="#1c1c1c">
<text x="99" y="561">混凝土池体</text>
<text x="356" y="660.5">滤料</text>
<text x="438.5" y="757.6" font-size="33" textLength="15" lengthAdjust="spacingAndGlyphs">T</text>
<text x="455" y="757">型滤砖</text>
<text x="66" y="843.5">曝气方管</text>
<text x="63" y="932.2">曝气支管</text>
<text x="197" y="1028.5">出水廊道</text>
</g>
</svg>
</body></html>
